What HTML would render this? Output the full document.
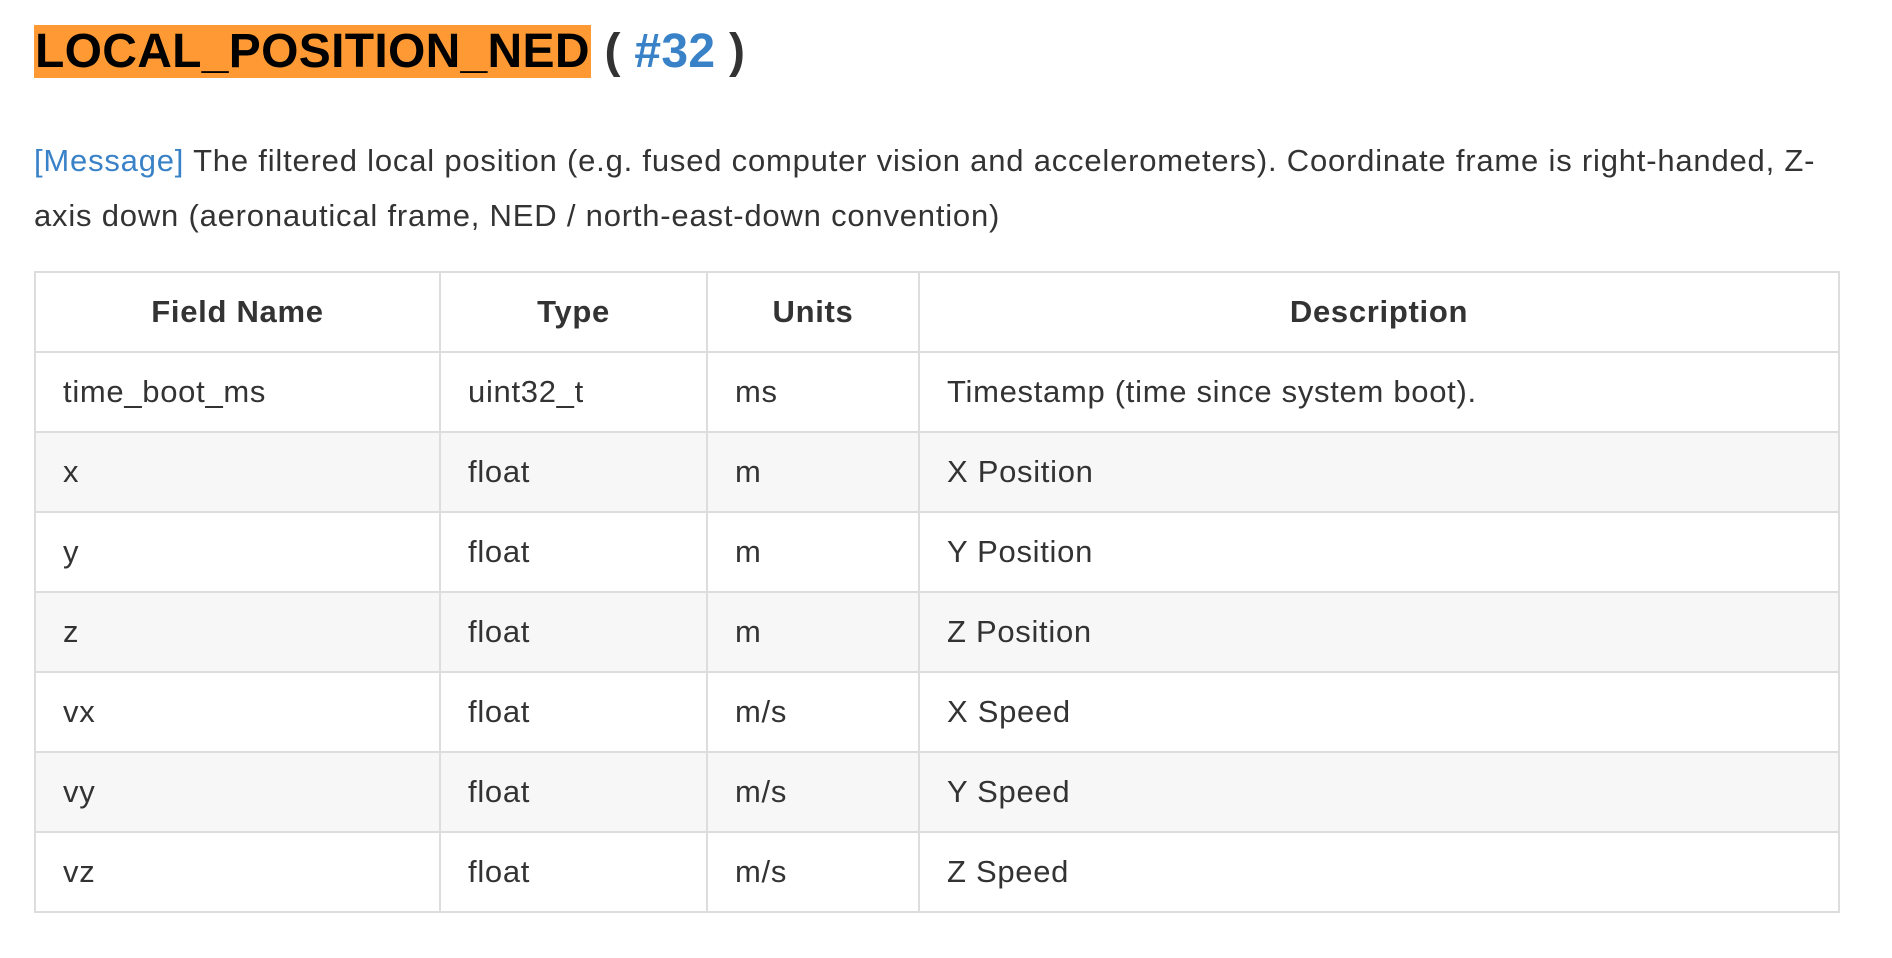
<!DOCTYPE html>
<html><head><meta charset="utf-8"><style>
body{margin:0;width:1892px;height:958px;background:#fff;font-family:"Liberation Sans",Arial,sans-serif;color:#333;position:relative;overflow:hidden}
h1{position:absolute;left:34px;top:22px;margin:0;font-size:48px;font-weight:bold;line-height:60px;white-space:nowrap;color:#333;letter-spacing:0.3px}
h1 .hl{background:#ff9933;color:#000;padding:0 1px}
h1 .n{color:#3a82c8}
p{position:absolute;left:34px;top:133px;margin:0;font-size:31px;letter-spacing:0.8px;line-height:55px;width:1850px;white-space:nowrap}
p a{color:#3a82c8}
table{position:absolute;left:34px;top:271px;border-collapse:collapse;width:1806px;font-size:31px;letter-spacing:0.7px}
td,th{border:2px solid #ddd;padding:0 27px;height:78px;text-align:left}
th{text-align:center;font-weight:bold;height:78px}
tr.g td{background:#f7f7f7}
</style></head><body>
<h1><span class="hl">LOCAL_POSITION_NED</span> ( <span class="n">#32</span> )</h1>
<p><a>[Message]</a> The filtered local position (e.g. fused computer vision and accelerometers). Coordinate frame is right-handed, Z-<br>axis down (aeronautical frame, NED / north-east-down convention)</p>
<table>
<tr><th style="width:349px">Field Name</th><th style="width:211px">Type</th><th style="width:156px">Units</th><th>Description</th></tr>
<tr><td>time_boot_ms</td><td>uint32_t</td><td>ms</td><td>Timestamp (time since system boot).</td></tr>
<tr class="g"><td>x</td><td>float</td><td>m</td><td>X Position</td></tr>
<tr><td>y</td><td>float</td><td>m</td><td>Y Position</td></tr>
<tr class="g"><td>z</td><td>float</td><td>m</td><td>Z Position</td></tr>
<tr><td>vx</td><td>float</td><td>m/s</td><td>X Speed</td></tr>
<tr class="g"><td>vy</td><td>float</td><td>m/s</td><td>Y Speed</td></tr>
<tr><td>vz</td><td>float</td><td>m/s</td><td>Z Speed</td></tr>
</table>
</body></html>
